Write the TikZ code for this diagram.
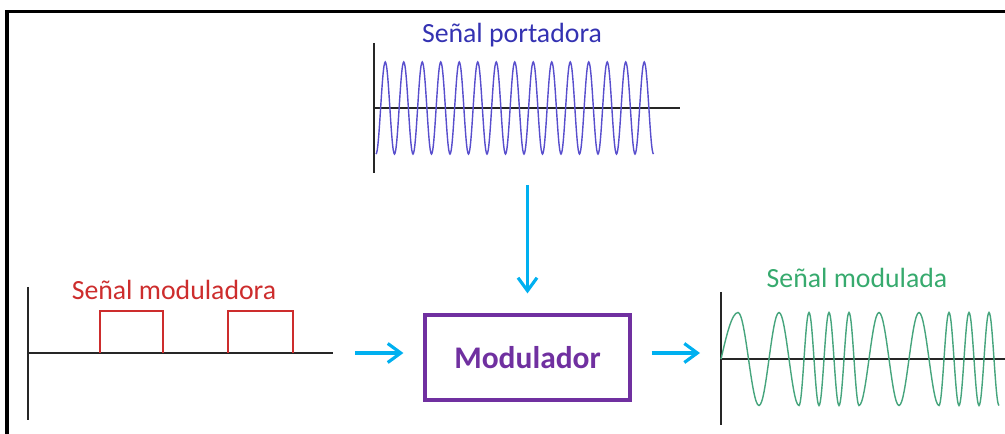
\documentclass[tikz,border=0pt]{standalone}
\usepackage{fontspec}
\setmainfont{Carlito}
\usetikzlibrary{arrows.meta}

\definecolor{azulporta}{RGB}{52,50,178}
\definecolor{ondaporta}{RGB}{88,78,205}
\definecolor{rojomod}{RGB}{205,45,45}
\definecolor{verdemod}{RGB}{55,170,110}
\definecolor{ondamod}{RGB}{70,165,125}
\definecolor{celeste}{RGB}{0,176,240}
\definecolor{morado}{RGB}{112,48,160}

\begin{document}
\begin{tikzpicture}

\tikzset{eje/.style = {draw=black!85, line width=0.9pt}}
\tikzset{flecha/.style = {draw=celeste, line width=1.8pt, -{Straight Barb[length=2.6mm,width=3.8mm]}}}
\tikzset{bloque/.style = {draw=morado, line width=1.8pt, minimum width=4.1cm, minimum height=1.7cm,
  text=morado, font=\fontsize{17.9}{20}\selectfont\bfseries}}
\tikzset{titulo/.style = {font=\fontsize{15.8}{18}\selectfont, inner sep=0pt}}
\useasboundingbox (0,0) rectangle (20.1,8.66);
%marco
\draw[line width=1.8pt] (0.14,-0.2) -- (0.14,8.43) -- (20.3,8.43);
%portadora
\node[titulo, text=azulporta] (tporta) at (10.24,7.96) {Señal portadora};
\coordinate (oporta) at (7.48,6.50);
\draw[eje] (7.48,7.80) -- (7.48,5.20);
\draw[eje] (oporta) -- (13.6,6.50);
\draw[ondaporta, line width=0.8pt] (7.52,5.58) \foreach \i in {1,...,15} {
  cos ++(0.0925,0.92) sin ++(0.0925,0.92) cos ++(0.0925,-0.92) sin ++(0.0925,-0.92) };
%modulador
\node[bloque] (mod) at (10.55,1.51) {Modulador};
\coordinate (bajada) at (10.55,4.96);
\draw[flecha, shorten >=0.4cm] (bajada) -- (mod.north);
%moduladora
\node[titulo, text=rojomod] (tmod) at (3.48,2.86) {Señal moduladora};
\coordinate (omod) at (0.56,1.60);
\coordinate (fmod) at (6.66,1.60);
\draw[eje] (0.56,2.92) -- (0.56,0.26);
\draw[eje] (omod) -- (fmod);
\draw[rojomod, line width=0.7pt] (2.0,1.60) |- (3.26,2.44) -- (3.26,1.60);
\draw[rojomod, line width=0.7pt] (4.56,1.60) |- (5.86,2.44) -- (5.86,1.60);
\draw[flecha, shorten <=0.44cm, shorten >=0.4cm] (fmod) -- (mod.west |- fmod);
%modulada
\node[titulo, text=verdemod] (tsal) at (17.14,3.10) {Señal modulada};
\coordinate (osal) at (14.42,1.48);
\draw[eje] (14.42,2.82) -- (14.42,0.16);
\draw[eje] (osal) -- (20.2,1.48);
\draw[flecha, shorten <=0.4cm, shorten >=0.42cm] (mod.east |- fmod) -- (osal |- fmod);
\draw[ondamod, line width=0.8pt] (osal) sin ++(0.34,0.93)
  \foreach \h [count=\i] in {0.42,0.4,0.4,0.2,0.2,0.2,0.2,0.2,0.2,0.4,0.4,0.4,0.4,0.2,0.2,0.2,0.2,0.2,0.2} {
  cos ++(\h/2,{0.93*cos(180*\i)}) sin ++(\h/2,{0.93*cos(180*\i)}) };

\end{tikzpicture}
\end{document}
